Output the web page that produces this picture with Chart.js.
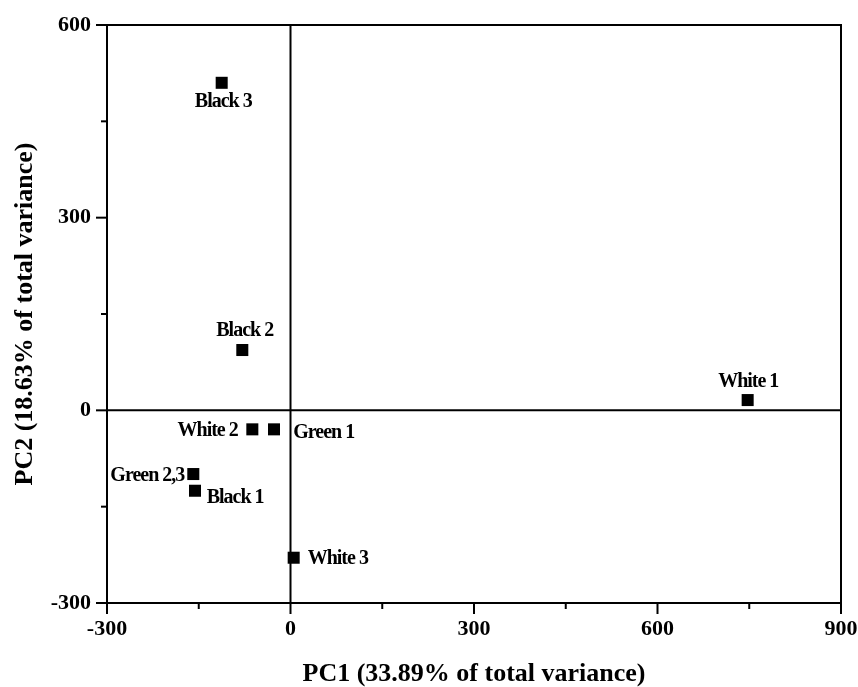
<!DOCTYPE html>
<html><head><meta charset="utf-8">
<script src="https://cdn.jsdelivr.net/npm/chart.js@4"></script>
<style>html,body{margin:0;padding:0;background:#fff}#wrap{width:858px;height:687px}</style>
</head><body><div id="wrap"><canvas id="c" width="858" height="687"></canvas></div>
<script>
// ---- data ----
const sampleNames = ['Black 3', 'Black 2', 'White 2', 'Green 1', 'Green 2,3', 'Black 1', 'White 3', 'White 1'];
const pc1 = [-112.5, -78.8, -62.4, -27, -158.9, -156.1, 5.2, 747.4];
const pc2 = [510, 93.9, -29.6, -29.6, -99.2, -125.2, -229.5, 16];
const xTicks = [-300, 0, 300, 600, 900];
const yTicks = [-300, 0, 300, 600];
const xMinorTicks = [-150, 150, 450, 750];
const yMinorTicks = [-150, 150, 450];
const xTitle = 'PC1 (33.89% of total variance)';
const yTitle = 'PC2 (18.63% of total variance)';

// label placement relative to marker: [textAlign, dx, dy]
const labelPlacement = [
  ['center', 1.6, 19], ['center', 2.4, -19.5], ['right', -14.6, 1.5], ['left', 19.3, 3.7],
  ['right', -9, 1.8], ['left', 11.7, 6.8], ['left', 14, 1], ['center', 0.6, -18.3]
];

const FONT = '"Liberation Serif", "Times New Roman", serif';

const points = pc1.map((v, i) => ({ x: v, y: pc2[i] }));

function line(ctx, x1, y1, x2, y2) {
  ctx.beginPath(); ctx.moveTo(x1, y1); ctx.lineTo(x2, y2); ctx.stroke();
}

const framePlugin = {
  id: 'frame',
  beforeDatasetsDraw(chart) {
    const { ctx, chartArea: a, scales: { x, y } } = chart;
    ctx.save();
    ctx.strokeStyle = '#000';
    ctx.lineWidth = 2;
    ctx.strokeRect(a.left, a.top, a.right - a.left, a.bottom - a.top);
    const x0 = x.getPixelForValue(0), y0 = y.getPixelForValue(0);
    line(ctx, x0, a.top, x0, a.bottom);
    line(ctx, a.left, y0, a.right, y0);
    xTicks.forEach(v => { const p = x.getPixelForValue(v); line(ctx, p, a.bottom, p, a.bottom + 11); });
    xMinorTicks.forEach(v => { const p = x.getPixelForValue(v); line(ctx, p, a.bottom, p, a.bottom + 6); });
    yTicks.forEach(v => { const p = y.getPixelForValue(v); line(ctx, a.left - 11, p, a.left, p); });
    yMinorTicks.forEach(v => { const p = y.getPixelForValue(v); line(ctx, a.left - 6, p, a.left, p); });
    ctx.restore();
  },
  afterDatasetsDraw(chart) {
    const { ctx } = chart;
    const meta = chart.getDatasetMeta(0);
    ctx.save();
    ctx.fillStyle = '#000';
    ctx.font = 'bold 20px ' + FONT;
    try { ctx.letterSpacing = '-1px'; } catch (e) {}
    ctx.textBaseline = 'middle';
    meta.data.forEach((el, i) => {
      const [al, dx, dy] = labelPlacement[i];
      ctx.textAlign = al;
      ctx.fillText(sampleNames[i], el.x + dx, el.y + dy);
    });
    ctx.restore();
  },
  afterDraw(chart) {
    const { ctx, chartArea: a } = chart;
    ctx.save();
    ctx.fillStyle = '#000';
    ctx.font = 'bold 26px ' + FONT;
    ctx.textAlign = 'center';
    ctx.textBaseline = 'alphabetic';
    ctx.fillText(xTitle, (a.left + a.right) / 2, 681);
    ctx.translate(32, (a.top + a.bottom) / 2);
    ctx.rotate(-Math.PI / 2);
    ctx.fillText(yTitle, 0, 0);
    ctx.restore();
  }
};

new Chart(document.getElementById('c'), {
  type: 'scatter',
  data: {
    datasets: [{
      data: points,
      pointStyle: 'rect',
      pointRadius: 8.5,
      pointHoverRadius: 8.5,
      backgroundColor: '#000',
      borderColor: '#000',
      borderWidth: 0
    }]
  },
  options: {
    responsive: false,
    animation: false,
    devicePixelRatio: 1,
    layout: { padding: { top: 25, right: 17, left: 0, bottom: 0 } },
    plugins: { legend: { display: false }, tooltip: { enabled: false } },
    events: [],
    scales: {
      x: {
        type: 'linear', min: -300, max: 900,
        grid: { display: false, drawTicks: false },
        border: { display: false },
        afterBuildTicks: s => { s.ticks = xTicks.map(v => ({ value: v })); },
        afterFit: s => { s.height = 84; s.paddingLeft = 0; s.paddingRight = 0; },
        ticks: { color: '#000', padding: 13, maxRotation: 0, font: { family: FONT, size: 22, weight: 'bold' } }
      },
      y: {
        type: 'linear', min: -300, max: 600,
        grid: { display: false, drawTicks: false },
        border: { display: false },
        afterBuildTicks: s => { s.ticks = yTicks.map(v => ({ value: v })); },
        afterFit: s => { s.width = 107; s.paddingTop = 0; s.paddingBottom = 0; },
        ticks: { color: '#000', padding: 16, font: { family: FONT, size: 22, weight: 'bold' } }
      }
    }
  },
  plugins: [framePlugin]
});
</script>
</body></html>
